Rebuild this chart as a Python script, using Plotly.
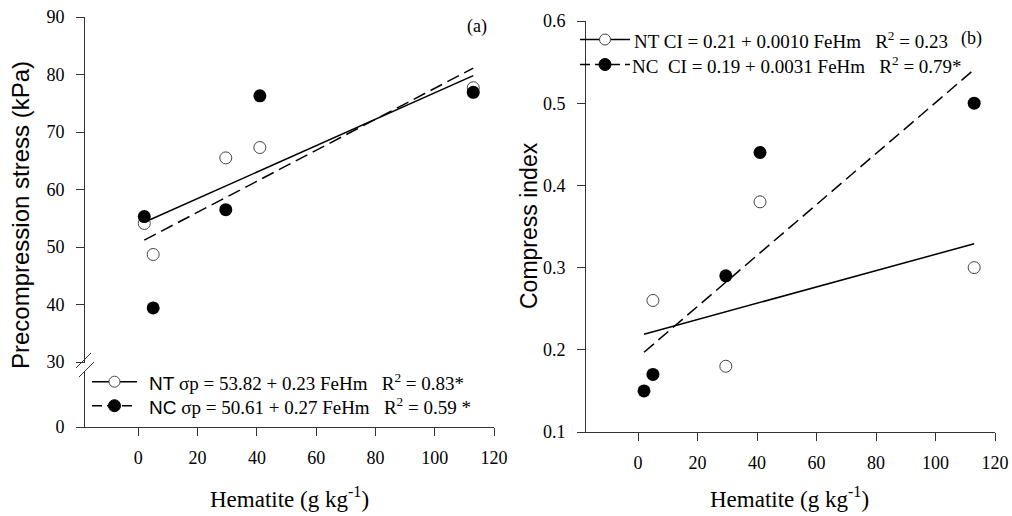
import plotly.graph_objects as go

# ---------------- data ----------------
# Panel (a): precompression stress (kPa) vs hematite (g/kg)
hem_nt_a = [2, 5, 29.5, 41, 113]
sp_nt = [54.1, 48.7, 65.5, 67.3, 77.7]
hem_nc_a = [2, 5, 29.5, 41, 113]
sp_nc = [55.3, 39.4, 56.5, 76.3, 76.9]
fit_x = [2, 113]
sp_fit_nt = [54.3, 79.8]
sp_fit_nc = [51.2, 81.1]

# Panel (b): compress index vs hematite
hem_nt_b = [5, 29.5, 41, 113]
ci_nt = [0.26, 0.18, 0.38, 0.30]
hem_nc_b = [2, 5, 29.5, 41, 113]
ci_nc = [0.15, 0.17, 0.29, 0.44, 0.50]
ci_fit_nt = [0.219, 0.329]
ci_fit_nc = [0.197, 0.541]

x_ticks = [0, 20, 40, 60, 80, 100, 120]
ya_ticks = [30, 40, 50, 60, 70, 80, 90]
yb_ticks = [0.1, 0.2, 0.3, 0.4, 0.5, 0.6]

leg_a = [
    '<span style="font-family:Liberation Sans">NT</span> σp = 53.82 + 0.23 FeHm\u00a0\u00a0\u00a0R<sup>2</sup> = 0.83*',
    '<span style="font-family:Liberation Sans">NC</span> σp = 50.61 + 0.27 FeHm\u00a0\u00a0\u00a0R<sup>2</sup> = 0.59 *',
]
leg_b = [
    'NT CI = 0.21 + 0.0010 FeHm\u00a0\u00a0\u00a0R<sup>2</sup> = 0.23',
    'NC\u00a0\u00a0CI = 0.19 + 0.0031 FeHm\u00a0\u00a0\u00a0R<sup>2</sup> = 0.79*',
]

# ---------------- layout helpers ----------------
W, H = 1012, 516
SERIF = "Liberation Serif"
SANS = "Liberation Sans"
AX = "#333333"
Y0_POS = 18.7  # position of the "0" tick below the axis break


def px(x):
    return x / W


def py(y):
    return 1 - y / H


DASH = "13px,6px"

fig = go.Figure()

# panel (a)
fig.add_trace(go.Scatter(x=fit_x, y=sp_fit_nt, mode="lines", line=dict(color="black", width=1.5),
                         xaxis="x", yaxis="y", showlegend=False))
fig.add_trace(go.Scatter(x=fit_x, y=sp_fit_nc, mode="lines", line=dict(color="black", width=1.5, dash=DASH),
                         xaxis="x", yaxis="y", showlegend=False))
fig.add_trace(go.Scatter(x=hem_nt_a, y=sp_nt, mode="markers",
                         marker=dict(size=12, color="white", line=dict(color="#444", width=1)),
                         xaxis="x", yaxis="y", showlegend=False))
fig.add_trace(go.Scatter(x=hem_nc_a, y=sp_nc, mode="markers",
                         marker=dict(size=13, color="black"),
                         xaxis="x", yaxis="y", showlegend=False))

# panel (b)
fig.add_trace(go.Scatter(x=fit_x, y=ci_fit_nt, mode="lines", line=dict(color="black", width=1.5),
                         xaxis="x2", yaxis="y2", showlegend=False))
fig.add_trace(go.Scatter(x=fit_x, y=ci_fit_nc, mode="lines", line=dict(color="black", width=1.5, dash=DASH),
                         xaxis="x2", yaxis="y2", showlegend=False))
fig.add_trace(go.Scatter(x=hem_nt_b, y=ci_nt, mode="markers",
                         marker=dict(size=12, color="white", line=dict(color="#444", width=1)),
                         xaxis="x2", yaxis="y2", showlegend=False))
fig.add_trace(go.Scatter(x=hem_nc_b, y=ci_nc, mode="markers",
                         marker=dict(size=13, color="black"),
                         xaxis="x2", yaxis="y2", showlegend=False))

axis_common = dict(showgrid=False, zeroline=False, showline=True, linecolor=AX, linewidth=1,
                   ticks="outside", ticklen=8, tickcolor=AX, tickwidth=1,
                   tickfont=dict(family=SERIF, size=18, color="black"), automargin=False)

fig.update_layout(
    width=W, height=H,
    font=dict(family=SERIF, size=18, color="black"),
    margin=dict(l=0, r=0, t=0, b=0, autoexpand=False),
    paper_bgcolor="white", plot_bgcolor="white",
    showlegend=False,
    xaxis=dict(domain=[px(85), px(494)], range=[-18, 120], tickvals=x_ticks, anchor="y",
               ticklabelstandoff=6, **axis_common),
    yaxis=dict(domain=[py(427), py(17)], range=[Y0_POS, 90],
               tickvals=[Y0_POS] + ya_ticks, ticktext=["0"] + [str(v) for v in ya_ticks],
               anchor="x", ticklabelstandoff=8, **axis_common),
    xaxis2=dict(domain=[px(586), px(995)], range=[-17.5, 120], tickvals=x_ticks, anchor="y2",
                ticklabelstandoff=6, **axis_common),
    yaxis2=dict(domain=[py(432), py(21)], range=[0.1, 0.6], tickvals=yb_ticks, tickformat=".1f",
                anchor="x2", ticklabelstandoff=8, **axis_common),
)

shapes = []
# axis break on panel (a) y axis
shapes.append(dict(type="rect", xref="paper", yref="paper", x0=px(82), x1=px(89), y0=py(372), y1=py(363),
                   fillcolor="white", line=dict(width=0), layer="above"))
shapes.append(dict(type="line", xref="paper", yref="paper", x0=px(76), y0=py(368), x1=px(91), y1=py(353),
                   line=dict(color=AX, width=1)))
shapes.append(dict(type="line", xref="paper", yref="paper", x0=px(79), y0=py(377), x1=px(94), y1=py(362),
                   line=dict(color=AX, width=1)))


def legend_sample(x0, x1, yc, dashed, filled):
    line = dict(color="black", width=1.5)
    if dashed:
        line["dash"] = "10px,5px"
    shapes.append(dict(type="line", xref="paper", yref="paper", x0=px(x0), x1=px(x1), y0=py(yc), y1=py(yc),
                       line=line))
    xc = (x0 + x1) / 2
    r = 6 if filled else 5.5
    shapes.append(dict(type="circle", xref="paper", yref="paper",
                       x0=px(xc - r), x1=px(xc + r), y0=py(yc + r), y1=py(yc - r),
                       fillcolor="black" if filled else "white",
                       line=dict(color="black" if filled else "#444", width=1)))


legend_sample(92, 137, 381.7, False, False)
legend_sample(92, 137, 405.7, True, True)
legend_sample(580, 630, 39.5, False, False)
legend_sample(580, 630, 64.5, True, True)

fig.update_layout(shapes=shapes)

ann = []
ann.append(dict(text=leg_a[0], x=px(147), y=py(381.7), xanchor="left", yanchor="middle"))
ann.append(dict(text=leg_a[1], x=px(147), y=py(405.7), xanchor="left", yanchor="middle"))
ann.append(dict(text=leg_b[0], x=px(632), y=py(39.5), xanchor="left", yanchor="middle"))
ann.append(dict(text=leg_b[1], x=px(630), y=py(64.5), xanchor="left", yanchor="middle"))
for a in ann:
    a.update(xref="paper", yref="paper", showarrow=False, font=dict(family=SERIF, size=19, color="black"))

extra = [
    dict(text="(a)", x=px(477), y=py(27), font=dict(family=SERIF, size=18, color="black")),
    dict(text="(b)", x=px(971), y=py(38), font=dict(family=SERIF, size=18, color="black")),
    dict(text="Precompression stress (kPa)", x=px(20), y=py(215), textangle=-90,
         font=dict(family=SANS, size=24, color="black")),
    dict(text="Compress index", x=px(529), y=py(226), textangle=-90,
         font=dict(family=SANS, size=23, color="black")),
    dict(text="Hematite (g kg<sup>-1</sup>)", x=px(289), y=py(497),
         font=dict(family=SERIF, size=23, color="black")),
    dict(text="Hematite (g kg<sup>-1</sup>)", x=px(789), y=py(497),
         font=dict(family=SERIF, size=23, color="black")),
]
for a in extra:
    a.update(xref="paper", yref="paper", showarrow=False, xanchor="center", yanchor="middle")
ann += extra
fig.update_layout(annotations=ann)

fig.write_html("out.html", config={"displayModeBar": False},
               post_script="document.body.style.margin='0';document.body.style.overflow='hidden';")
